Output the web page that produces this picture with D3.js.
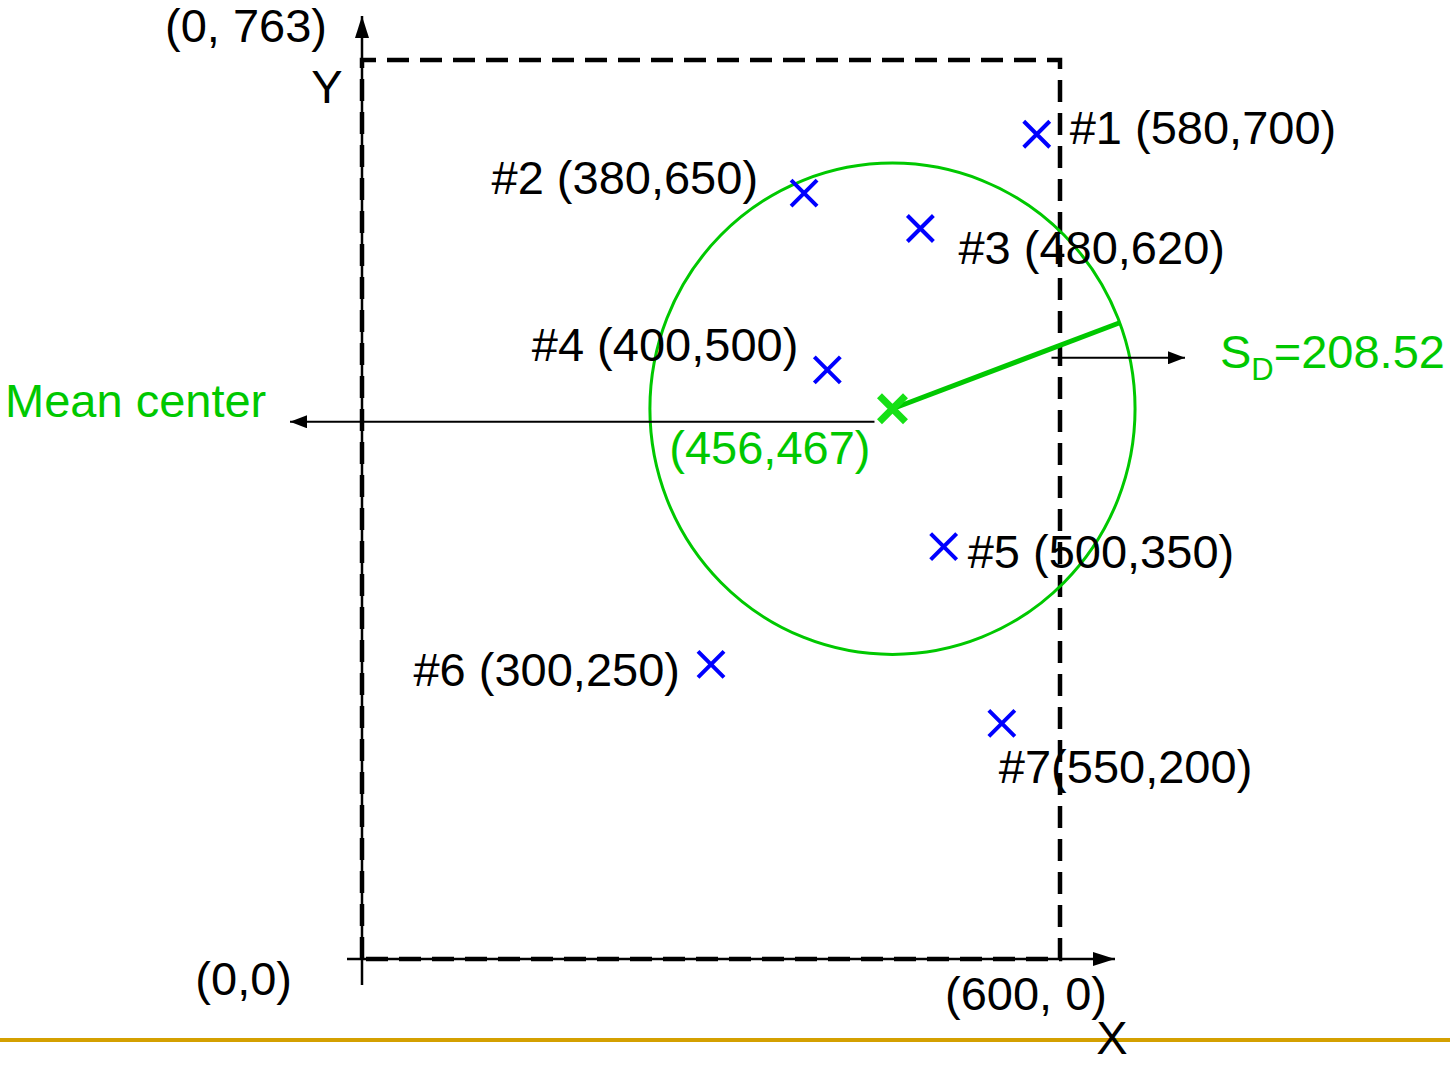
<!DOCTYPE html>
<html>
<head>
<meta charset="utf-8">
<script src="https://cdn.jsdelivr.net/npm/d3@7"></script>
<style>
  html, body { margin: 0; padding: 0; background: #ffffff; }
  svg { display: block; }
  text { font-family: "Liberation Sans", Arial, Helvetica, sans-serif; }
</style>
</head>
<body>
<svg id="chart" width="1450" height="1065"></svg>
<script>
// Study area extent (map units)
const xExtent = [0, 600];
const yExtent = [0, 763];

// Incident locations
const pointIds = ["#1", "#2", "#3", "#4", "#5", "#6", "#7"];
const pointX = [580, 380, 480, 400, 500, 300, 550];
const pointY = [700, 650, 620, 500, 350, 250, 200];
const labelSeparators = [" ", " ", " ", " ", " ", " ", ""];

// Centrographic summary
const meanCenter = [456, 467];
const standardDistance = 208.52;

// Corner coordinate labels
const cornerX = [0, 0, 600];
const cornerY = [763, 0, 0];
const cornerText = ["(0, 763)", "(0,0)", "(600, 0)"];

const svg = d3.select("#chart");
const FONT = 47;
const BLUE = "#0000ff";
const GREEN = "#00c800";
const BRIGHT_GREEN = "#16e016";

const x = d3.scaleLinear().domain(xExtent).range([362, 1060]);
const y = d3.scaleLinear().domain(yExtent).range([959, 60]);

// Arrow heads
const defs = svg.append("defs");
function arrowMarker(id, len, wid) {
  defs.append("marker")
    .attr("id", id)
    .attr("viewBox", `0 ${-wid / 2} ${len} ${wid}`)
    .attr("refX", len).attr("refY", 0)
    .attr("markerUnits", "userSpaceOnUse")
    .attr("markerWidth", len).attr("markerHeight", wid)
    .attr("orient", "auto")
    .append("path")
    .attr("d", `M0,${-wid / 2}L${len},0L0,${wid / 2}Z`)
    .attr("fill", "#000");
}
arrowMarker("axisHead", 22, 14);
arrowMarker("noteHead", 17, 13);

// Slide rule at the bottom
svg.append("line")
  .attr("x1", 0).attr("x2", 1450).attr("y1", 1040).attr("y2", 1040)
  .attr("stroke", "#d4a000").attr("stroke-width", 4);

// Axes
svg.append("line")
  .attr("x1", x(0)).attr("x2", x(0))
  .attr("y1", y(0) + 26).attr("y2", y(763) - 44)
  .attr("stroke", "#000").attr("stroke-width", 2.5)
  .attr("marker-end", "url(#axisHead)");
svg.append("line")
  .attr("x1", x(0) - 15).attr("x2", x(600) + 55)
  .attr("y1", y(0)).attr("y2", y(0))
  .attr("stroke", "#000").attr("stroke-width", 2.5)
  .attr("marker-end", "url(#axisHead)");

// Dashed study-area boundary
const boundary = d3.path();
boundary.moveTo(x(xExtent[0]), y(yExtent[0]));
boundary.lineTo(x(xExtent[0]), y(yExtent[1]));
boundary.lineTo(x(xExtent[1]), y(yExtent[1]));
boundary.lineTo(x(xExtent[1]), y(yExtent[0]));
boundary.closePath();
svg.append("path")
  .attr("d", boundary.toString())
  .attr("fill", "none").attr("stroke", "#000")
  .attr("stroke-width", 4.5).attr("stroke-dasharray", "22,11");

// Axis names and corner coordinates
svg.append("text").text("Y")
  .attr("x", x(0) - 35).attr("y", y(763) + 43)
  .attr("text-anchor", "middle").attr("font-size", FONT);
svg.append("text").text("X")
  .attr("x", x(600) + 52).attr("y", 1054)
  .attr("text-anchor", "middle").attr("font-size", FONT);

const cornerOffsets = [[-35, -18, "end"], [-70, 36, "end"], [47, 51, "end"]];
svg.selectAll("text.corner")
  .data(cornerText.map((t, i) => ({ t, cx: cornerX[i], cy: cornerY[i], o: cornerOffsets[i] })))
  .join("text").attr("class", "corner")
  .attr("x", d => x(d.cx) + d.o[0])
  .attr("y", d => y(d.cy) + d.o[1])
  .attr("text-anchor", d => d.o[2])
  .attr("font-size", FONT)
  .text(d => d.t);

// Standard distance circle (drawn in map units on both axes)
const rx = x(standardDistance) - x(0);
const ry = y(0) - y(standardDistance);
svg.append("ellipse")
  .attr("cx", x(meanCenter[0])).attr("cy", y(meanCenter[1]))
  .attr("rx", rx).attr("ry", ry)
  .attr("fill", "none").attr("stroke", GREEN).attr("stroke-width", 3);

// Radius segment
const radAngle = 20.5 * Math.PI / 180;
svg.append("line")
  .attr("x1", x(meanCenter[0])).attr("y1", y(meanCenter[1]))
  .attr("x2", x(meanCenter[0] + standardDistance * Math.cos(radAngle)))
  .attr("y2", y(meanCenter[1] + standardDistance * Math.sin(radAngle)))
  .attr("stroke", GREEN).attr("stroke-width", 5);

// X-shaped marker path
function cross(h) {
  return `M${-h},${-h}L${h},${h}M${-h},${h}L${h},${-h}`;
}

const points = pointIds.map((id, i) => ({
  id, vx: pointX[i], vy: pointY[i],
  label: `${id}${labelSeparators[i]}(${pointX[i]},${pointY[i]})`
}));

svg.selectAll("path.pt")
  .data(points).join("path").attr("class", "pt")
  .attr("transform", d => `translate(${x(d.vx)},${y(d.vy)})`)
  .attr("d", cross(13))
  .attr("fill", "none").attr("stroke", BLUE).attr("stroke-width", 4);

// Label placement around each marker: [dx, dy, anchor]
const labelOffsets = [
  [33, 10, "start"],
  [-46, 1, "end"],
  [38, 36, "start"],
  [-29, -9, "end"],
  [24, 21, "start"],
  [-31, 22, "end"],
  [-3, 60, "start"]
];
svg.selectAll("text.pt")
  .data(points).join("text").attr("class", "pt")
  .attr("x", (d, i) => x(d.vx) + labelOffsets[i][0])
  .attr("y", (d, i) => y(d.vy) + labelOffsets[i][1])
  .attr("text-anchor", (d, i) => labelOffsets[i][2])
  .attr("font-size", FONT)
  .attr("fill", "#000")
  .text(d => d.label);

// Mean center marker and annotations
const mcx = x(meanCenter[0]);
const mcy = y(meanCenter[1]);
svg.append("path")
  .attr("transform", `translate(${mcx},${mcy})`)
  .attr("d", cross(13))
  .attr("fill", "none").attr("stroke", BRIGHT_GREEN).attr("stroke-width", 7);

const meanArrowY = mcy + 13;

svg.append("text")
  .attr("x", mcx - 22).attr("y", meanArrowY + 42)
  .attr("text-anchor", "end").attr("font-size", FONT)
  .attr("fill", GREEN)
  .text(`(${meanCenter[0]},${meanCenter[1]})`);

svg.append("line")
  .attr("x1", mcx - 18).attr("x2", 290)
  .attr("y1", meanArrowY).attr("y2", meanArrowY)
  .attr("stroke", "#000").attr("stroke-width", 2)
  .attr("marker-end", "url(#noteHead)");
svg.append("text")
  .attr("x", 5).attr("y", meanArrowY - 5)
  .attr("font-size", FONT).attr("fill", GREEN)
  .text("Mean center");

const sdArrowY = mcy - 51;
svg.append("line")
  .attr("x1", mcx + 159).attr("x2", 1185)
  .attr("y1", sdArrowY).attr("y2", sdArrowY)
  .attr("stroke", "#000").attr("stroke-width", 2)
  .attr("marker-end", "url(#noteHead)");
const sdText = svg.append("text")
  .attr("x", 1220).attr("y", sdArrowY + 10)
  .attr("font-size", FONT).attr("fill", GREEN);
sdText.append("tspan").text("S");
sdText.append("tspan").attr("font-size", 31).attr("dy", 12).text("D");
sdText.append("tspan").attr("dy", -12).text(`=${standardDistance}`);
</script>
</body>
</html>
